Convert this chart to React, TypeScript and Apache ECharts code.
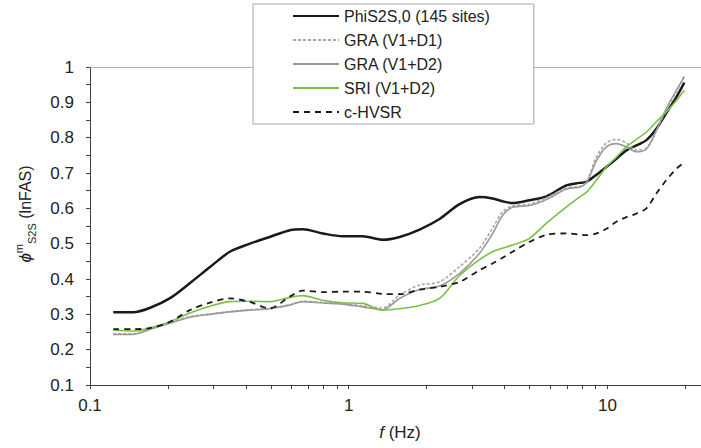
import React, { useEffect, useRef } from "react";
import * as echarts from "echarts";

const freqs = [
  0.123, 0.147, 0.17, 0.204, 0.243, 0.291, 0.347, 0.415, 0.495, 0.592, 0.664, 0.794,
  0.948, 1.133, 1.353, 1.573, 1.879, 2.245, 2.683, 3.205, 3.597, 3.932, 4.298, 5.0,
  5.814, 6.946, 7.796, 8.296, 9.07, 9.91, 10.83, 11.84, 12.94, 14.15, 15.46, 16.9,
  18.47, 19.83,
];

const phiS2S = [
  0.306, 0.306, 0.318, 0.346, 0.388, 0.434, 0.477, 0.5, 0.519, 0.538, 0.541, 0.529,
  0.521, 0.521, 0.511, 0.519, 0.54, 0.57, 0.612, 0.632, 0.628, 0.62, 0.615, 0.623,
  0.634, 0.665, 0.672, 0.675, 0.695, 0.717, 0.74, 0.764, 0.778, 0.793, 0.825, 0.87,
  0.915, 0.956,
];

const graD1 = [
  0.245, 0.245, 0.258, 0.276, 0.293, 0.301, 0.308, 0.313, 0.317, 0.327, 0.337, 0.334,
  0.331, 0.324, 0.318, 0.355, 0.383, 0.392, 0.435, 0.487, 0.544, 0.59, 0.607, 0.612,
  0.63, 0.658, 0.662, 0.675, 0.745, 0.785, 0.795, 0.785, 0.765, 0.77, 0.82, 0.88,
  0.93, 0.975,
];

const graD2 = [
  0.243, 0.243, 0.257, 0.275, 0.292, 0.3, 0.307, 0.312, 0.316, 0.326, 0.336, 0.332,
  0.329, 0.321, 0.313, 0.345, 0.37, 0.38, 0.416, 0.473, 0.528, 0.58, 0.603, 0.608,
  0.625, 0.655, 0.66, 0.672, 0.735, 0.774, 0.783, 0.774, 0.76, 0.768, 0.82, 0.883,
  0.934, 0.973,
];

const sriD2 = [
  0.255, 0.253, 0.261, 0.279, 0.304, 0.323, 0.336, 0.337, 0.336, 0.348, 0.353, 0.34,
  0.333, 0.331, 0.312, 0.316, 0.325, 0.345, 0.41, 0.455, 0.477, 0.487, 0.496, 0.515,
  0.558, 0.604, 0.632, 0.645, 0.68, 0.717, 0.745, 0.774, 0.795, 0.816, 0.845, 0.873,
  0.905, 0.934,
];

const cHVSR = [
  0.258, 0.258, 0.261, 0.279, 0.312, 0.333, 0.345, 0.335, 0.317, 0.35, 0.367, 0.363,
  0.364, 0.364, 0.358, 0.357, 0.37, 0.378, 0.392, 0.425, 0.444, 0.46, 0.477, 0.505,
  0.525, 0.529, 0.526, 0.524, 0.529, 0.542, 0.562, 0.575, 0.585, 0.6, 0.642, 0.68,
  0.712, 0.73,
];

const seriesNames = [
  "PhiS2S,0 (145 sites)",
  "GRA (V1+D1)",
  "GRA (V1+D2)",
  "SRI (V1+D2)",
  "c-HVSR",
];

const xTickValues = [
  0.1, 0.2, 0.3, 0.4, 0.5, 0.6, 0.7, 0.8, 0.9, 1, 2, 3, 4, 5, 6, 7, 8, 9, 10, 20,
];
const xLabelValues = [0.1, 1, 10];

const FONT = "'Liberation Sans', Arial, sans-serif";

function pairs(vals: number[]) {
  return freqs.map((f, i) => [f, vals[i]]);
}

export default function App() {
  const ref = useRef<HTMLDivElement>(null);

  useEffect(() => {
    if (!ref.current) return;
    const chart = echarts.init(ref.current, null, { renderer: "svg" });

    const lineSeries = (
      name: string,
      vals: number[],
      color: string,
      width: number,
      type: any
    ) => ({
      name,
      type: "line",
      data: pairs(vals),
      symbol: "none",
      showSymbol: false,
      smooth: 0.3,
      lineStyle: { color, width, type },
      itemStyle: { color: "rgba(0,0,0,0)", borderWidth: 0 },
      emphasis: { disabled: true },
    });

    chart.setOption({
      animation: false,
      backgroundColor: "#ffffff",
      textStyle: { fontFamily: FONT },
      grid: { left: 90, right: 0, top: 67, bottom: 63, containLabel: false },
      legend: {
        orient: "vertical",
        left: 253,
        top: 4,
        padding: [4, 44, 4, 39],
        itemWidth: 46,
        itemHeight: 14,
        itemGap: 8,
        backgroundColor: "#ffffff",
        borderColor: "#a6a6a6",
        borderWidth: 1,
        borderRadius: 0,
        itemStyle: { color: "rgba(0,0,0,0)", borderWidth: 0 },
        textStyle: { fontSize: 16, color: "#222222", fontFamily: FONT, lineHeight: 16 },
        data: seriesNames,
        z: 10,
      },
      xAxis: [
        {
          type: "log",
          logBase: 10,
          min: 0.1,
          max: 23,
          axisLine: { show: true, lineStyle: { color: "#404040", width: 1 } },
          axisTick: {
            show: true,
            inside: false,
            length: 4,
            customValues: xTickValues,
            lineStyle: { color: "#404040" },
          },
          minorTick: { show: false },
          axisLabel: {
            customValues: xLabelValues,
            fontSize: 17,
            color: "#222222",
            margin: 12,
            fontFamily: FONT,
            formatter: (v: number) => String(v),
          },
          splitLine: { show: false },
        },
        {
          type: "log",
          logBase: 10,
          min: 0.1,
          max: 23,
          position: "top",
          axisLine: { show: true, lineStyle: { color: "#b3b3b3", width: 1 } },
          axisTick: { show: false },
          axisLabel: { show: false },
          splitLine: { show: false },
        },
      ],
      yAxis: {
        type: "value",
        min: 0.1,
        max: 1,
        interval: 0.1,
        axisLine: { show: true, lineStyle: { color: "#404040", width: 1 } },
        axisTick: { show: true, inside: false, length: 4, lineStyle: { color: "#404040" } },
        minorTick: { show: true, splitNumber: 2, length: 4, lineStyle: { color: "#404040" } },
        axisLabel: {
          fontSize: 17,
          color: "#222222",
          margin: 16,
          fontFamily: FONT,
          formatter: (v: number) => String(Math.round(v * 10) / 10),
        },
        splitLine: { show: false },
      },
      graphic: [
        {
          type: "text",
          x: 400,
          y: 432,
          style: {
            text: "{i|f}{n| (Hz)}",
            align: "center",
            verticalAlign: "middle",
            rich: {
              i: { fontSize: 17, fontStyle: "italic", fontFamily: FONT, fill: "#222222" },
              n: { fontSize: 17, fontFamily: FONT, fill: "#222222" },
            },
          },
        },
        {
          type: "text",
          x: 25,
          y: 214,
          rotation: Math.PI / 2,
          style: {
            text: "{p|\u03d5}{sup|m}{sub|S2S}{n| (lnFAS)}",
            align: "center",
            verticalAlign: "middle",
            rich: {
              p: {
                fontSize: 17,
                fontStyle: "italic",
                fontFamily: FONT,
                fill: "#222222",
                lineHeight: 24,
                verticalAlign: "middle",
              },
              sup: {
                fontSize: 11,
                fontFamily: FONT,
                fill: "#222222",
                lineHeight: 12,
                verticalAlign: "top",
              },
              sub: {
                fontSize: 11,
                fontFamily: FONT,
                fill: "#222222",
                lineHeight: 12,
                verticalAlign: "bottom",
              },
              n: {
                fontSize: 16,
                fontFamily: FONT,
                fill: "#222222",
                lineHeight: 24,
                verticalAlign: "middle",
              },
            },
          },
        },
      ],
      series: [
        lineSeries(seriesNames[0], phiS2S, "#1a1a1a", 2.5, "solid"),
        lineSeries(seriesNames[1], graD1, "#a6a6a6", 1.6, [3, 2]),
        lineSeries(seriesNames[2], graD2, "#9a9a9a", 1.6, "solid"),
        lineSeries(seriesNames[3], sriD2, "#7ac143", 1.6, "solid"),
        lineSeries(seriesNames[4], cHVSR, "#1a1a1a", 1.8, [6, 5]),
      ],
    });

    return () => chart.dispose();
  }, []);

  return (
    <div
      ref={ref}
      style={{ position: "absolute", left: 0, top: 0, width: 701, height: 448 }}
    />
  );
}
